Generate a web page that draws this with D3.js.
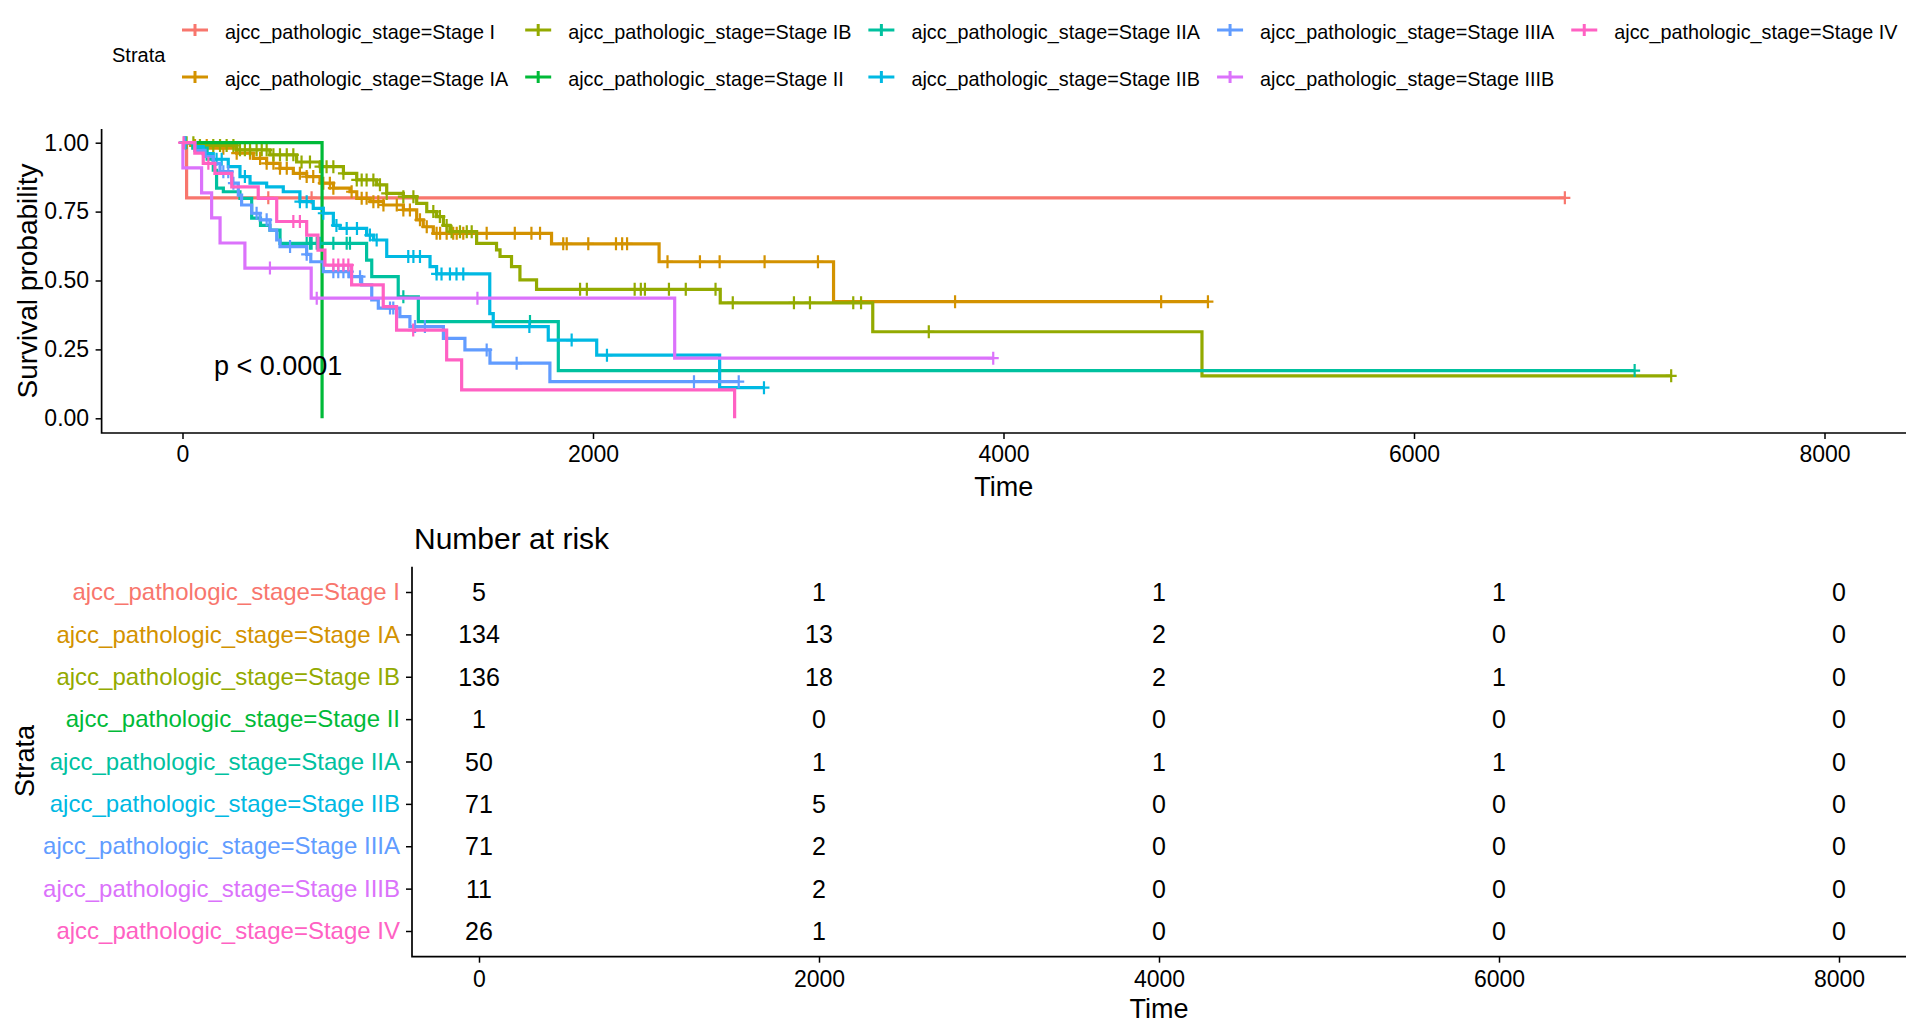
<!DOCTYPE html>
<html>
<head>
<meta charset="utf-8">
<script src="https://cdn.jsdelivr.net/npm/d3@7"></script>
<style>
  body { margin: 0; background: #fff; }
  svg { display: block; font-family: "Liberation Sans", Arial, sans-serif; }
</style>
</head>
<body>
<svg id="chart" width="1920" height="1035"></svg>
<script>
'use strict';

// strata, in legend / table order
var strata = [
  'ajcc_pathologic_stage=Stage I', 'ajcc_pathologic_stage=Stage IA',
  'ajcc_pathologic_stage=Stage IB', 'ajcc_pathologic_stage=Stage II',
  'ajcc_pathologic_stage=Stage IIA', 'ajcc_pathologic_stage=Stage IIB',
  'ajcc_pathologic_stage=Stage IIIA', 'ajcc_pathologic_stage=Stage IIIB',
  'ajcc_pathologic_stage=Stage IV'
];
var colors = ['#F8766D', '#D39200', '#93AA00', '#00BA38', '#00C19F',
              '#00B9E3', '#619CFF', '#DB72FB', '#FF61C3'];

// KM steps: [time, survival]
var stageI = [[0, 1], [20, 0.8]];
var stageIA = [[0, 1], [40, 0.99], [120, 0.98], [264, 0.962], [345, 0.943], [410, 0.925],
  [475, 0.907], [540, 0.889], [605, 0.877], [670, 0.853], [735, 0.835], [816, 0.822],
  [849, 0.798], [914, 0.786], [979, 0.774], [1076, 0.756], [1141, 0.72], [1173, 0.695],
  [1222, 0.671], [1798, 0.633], [2322, 0.568], [3172, 0.423]];
var stageIB = [[0, 1], [60, 0.99], [264, 0.974], [426, 0.956], [556, 0.93], [670, 0.913],
  [784, 0.889], [849, 0.865], [946, 0.847], [995, 0.816], [1076, 0.804], [1141, 0.78],
  [1190, 0.75], [1238, 0.732], [1271, 0.70], [1303, 0.677], [1433, 0.635], [1530, 0.611],
  [1547, 0.587], [1603, 0.55], [1644, 0.502], [1725, 0.468], [2620, 0.419], [3363, 0.314],
  [4967, 0.154]];
var stageII = [[0, 1], [680, 0]];
var stageIIA = [[0, 1], [50, 0.98], [120, 0.94], [150, 0.90], [166, 0.835], [199, 0.822],
  [280, 0.798], [337, 0.726], [380, 0.70], [426, 0.683], [475, 0.635], [897, 0.574],
  [922, 0.514], [1051, 0.441], [1149, 0.351], [1831, 0.173]];
var stageIIB = [[0, 1], [60, 0.986], [101, 0.96], [150, 0.94], [223, 0.913], [280, 0.877],
  [329, 0.853], [410, 0.84], [491, 0.822], [572, 0.786], [637, 0.762], [686, 0.744],
  [735, 0.70], [767, 0.689], [897, 0.665], [930, 0.647], [995, 0.587], [1206, 0.55],
  [1238, 0.524], [1497, 0.38], [1514, 0.333], [1782, 0.284], [2018, 0.229], [2617, 0.111]];
var stageIIIA = [[0, 1], [60, 0.972], [110, 0.95], [150, 0.925], [183, 0.895], [240, 0.853],
  [272, 0.81], [288, 0.774], [337, 0.744], [378, 0.72], [426, 0.683], [459, 0.647],
  [475, 0.623], [605, 0.595], [625, 0.568], [686, 0.532], [816, 0.514], [873, 0.484],
  [922, 0.43], [954, 0.40], [1059, 0.369], [1108, 0.333], [1271, 0.29], [1376, 0.248],
  [1498, 0.2], [1790, 0.133]];
var stageIIIB = [[0, 1], [2, 0.909], [93, 0.818], [142, 0.727], [183, 0.636], [304, 0.545],
  [627, 0.436], [2398, 0.218]];
var stageIV = [[0, 1], [60, 0.962], [101, 0.925], [158, 0.889], [240, 0.84], [369, 0.798],
  [459, 0.714], [605, 0.665], [660, 0.61], [694, 0.556], [824, 0.484], [978, 0.405],
  [1043, 0.32], [1287, 0.212], [1360, 0.103], [2690, 0]];

// censoring times
var censI = [418, 629, 6735];
var censIA = [61, 118, 199, 264, 329, 378, 410, 443, 475, 508, 572, 605, 637, 686, 718, 735,
  824, 873, 897, 930, 954, 979, 1044, 1076, 1108, 1157, 1190, 1238, 1255, 1287, 1319, 1336,
  1368, 1482, 1619, 1700, 1742, 1855, 1872, 1977, 2112, 2142, 2166, 2363, 2521, 2617, 2836,
  3096, 3764, 4768, 4996];
var censIB = [20, 53, 85, 150, 183, 215, 248, 280, 304, 329, 361, 386, 410, 443, 475, 508,
  540, 580, 621, 670, 702, 735, 784, 849, 873, 897, 930, 962, 995, 1076, 1125, 1222, 1254,
  1287, 1311, 1352, 1385, 1409, 1937, 1970, 2203, 2233, 2253, 2370, 2452, 2597, 2681, 2979,
  3057, 3268, 3306, 3636, 7253];
var censII = [];
var censIIA = [10, 605, 621, 629, 654, 670, 735, 800, 816, 1076, 1693, 7075];
var censIIB = [15, 166, 191, 304, 572, 605, 686, 750, 800, 850, 913, 946, 1100, 1125, 1157,
  1238, 1262, 1303, 1335, 1368, 1690, 1896, 2068, 2833];
var censIIIA = [10, 199, 223, 248, 361, 410, 524, 605, 735, 759, 784, 808, 865, 1011, 1027,
  1133, 1181, 1482, 1628, 2492, 2710];
var censIIIB = [426, 654, 1437, 3950];
var censIV = [5, 126, 540, 572, 735, 759, 784, 808, 1124];

// number at risk
var riskTimes = [0, 2000, 4000, 6000, 8000];
var riskI = [5, 1, 1, 1, 0];
var riskIA = [134, 13, 2, 0, 0];
var riskIB = [136, 18, 2, 1, 0];
var riskII = [1, 0, 0, 0, 0];
var riskIIA = [50, 1, 1, 1, 0];
var riskIIB = [71, 5, 0, 0, 0];
var riskIIIA = [71, 2, 0, 0, 0];
var riskIIIB = [11, 2, 0, 0, 0];
var riskIV = [26, 1, 0, 0, 0];

var xTicks = [0, 2000, 4000, 6000, 8000];
var yTicks = [0, 0.25, 0.5, 0.75, 1];

var steps = [stageI, stageIA, stageIB, stageII, stageIIA, stageIIB, stageIIIA, stageIIIB, stageIV];
var cens = [censI, censIA, censIB, censII, censIIA, censIIB, censIIIA, censIIIB, censIV];
var risk = [riskI, riskIA, riskIB, riskII, riskIIA, riskIIB, riskIIIA, riskIIIB, riskIV];

var curves = strata.map(function(name, i) {
  var st = steps[i];
  var last = st[st.length - 1];
  var end = Math.max(last[0], d3.max(cens[i]) || 0);
  var pts = st.slice();
  if (end > last[0]) pts.push([end, last[1]]);
  return { name: name, color: colors[i], pts: pts, steps: st, cens: cens[i], risk: risk[i] };
});

function survAt(st, t) {
  var s = 1;
  st.forEach(function(p) { if (p[0] <= t) s = p[1]; });
  return s;
}

var svg = d3.select('#chart');

// ---------- survival panel ----------
var panel = { left: 101.6, right: 1906, top: 128.9, bottom: 433 };
var x = d3.scaleLinear().domain([0, 8000]).range([182.5, 1824.5]);
var y = d3.scaleLinear().domain([0, 1]).range([418.3, 142.7]);

var line = d3.line()
    .curve(d3.curveStepAfter)
    .x(function(d) { return x(d[0]); })
    .y(function(d) { return y(d[1]); });

var g = svg.append('g');

var curve = g.selectAll('.curve')
  .data(curves)
  .enter().append('g')
    .attr('class', 'curve');

curve.append('path')
    .attr('d', function(d) { return line(d.pts); })
    .attr('fill', 'none')
    .attr('stroke', function(d) { return d.color; })
    .attr('stroke-width', 3.2);

curve.selectAll('.cens')
  .data(function(d) {
    return d.cens.map(function(t) { return { t: t, s: survAt(d.steps, t), color: d.color }; });
  })
  .enter().append('path')
    .attr('class', 'cens')
    .attr('d', function(d) {
      var cx = x(d.t), cy = y(d.s);
      return 'M' + (cx - 5.5) + ',' + cy + 'H' + (cx + 5.5) + 'M' + cx + ',' + (cy - 6.5) + 'V' + (cy + 6.5);
    })
    .attr('stroke', function(d) { return d.color; })
    .attr('stroke-width', 2.2)
    .attr('fill', 'none');

// axes
var xAxis = d3.axisBottom(x).tickValues(xTicks).tickSize(6).tickPadding(6.5).tickFormat(d3.format('d'));
var yAxis = d3.axisLeft(y).tickValues(yTicks).tickSize(6).tickPadding(6.5).tickFormat(d3.format('.2f'));

var gx = svg.append('g').attr('transform', 'translate(0,' + panel.bottom + ')').call(xAxis);
var gy = svg.append('g').attr('transform', 'translate(' + panel.left + ',0)').call(yAxis);
[gx, gy].forEach(function(a) {
  a.select('.domain').remove();
  a.selectAll('line').attr('stroke', '#000').attr('stroke-width', 1.5);
  a.selectAll('text').attr('fill', '#000').style('font-size', '23px').style('font-family', 'inherit');
});

svg.append('path')
    .attr('d', 'M' + panel.left + ',' + panel.top + 'V' + panel.bottom + 'H' + panel.right)
    .attr('fill', 'none').attr('stroke', '#000').attr('stroke-width', 1.7);

svg.append('text')
    .attr('transform', 'translate(37,281) rotate(-90)')
    .attr('text-anchor', 'middle')
    .style('font-size', '28px')
    .text('Survival probability');

svg.append('text')
    .attr('x', (panel.left + panel.right) / 2).attr('y', 496)
    .attr('text-anchor', 'middle')
    .style('font-size', '27px')
    .text('Time');

svg.append('text')
    .attr('x', 214).attr('y', 375)
    .style('font-size', '27px')
    .text('p < 0.0001');

// ---------- legend ----------
var legend = svg.append('g');
legend.append('text')
    .attr('x', 112).attr('y', 62)
    .style('font-size', '20px')
    .text('Strata');

var rowY = [30, 77];
var keyX = 182;
for (var c = 0; c < Math.ceil(curves.length / 2); c++) {
  var maxW = 0;
  for (var r = 0; r < 2; r++) {
    var k = c * 2 + r;
    if (k >= curves.length) break;
    var item = legend.append('g').attr('transform', 'translate(' + keyX + ',' + rowY[r] + ')');
    item.append('path')
        .attr('d', 'M0,0H26M13,-6V6')
        .attr('stroke', curves[k].color)
        .attr('stroke-width', 3)
        .attr('fill', 'none');
    var t = item.append('text')
        .attr('x', 43).attr('y', 8.5)
        .style('font-size', '19.8px')
        .text(curves[k].name);
    maxW = Math.max(maxW, t.node().getComputedTextLength());
  }
  keyX = keyX + 43 + maxW + 17;
}

// ---------- number at risk table ----------
var tpanel = { left: 412, right: 1906, top: 566.7, bottom: 956.7 };
var xr = d3.scaleLinear().domain([0, 8000]).range([479, 1839]);
var yr = d3.scalePoint().domain(strata).range([592, 931]);

svg.append('text')
    .attr('x', 414).attr('y', 549)
    .style('font-size', '30px')
    .text('Number at risk');

var rows = svg.append('g').selectAll('g')
  .data(curves)
  .enter().append('g')
    .attr('transform', function(d) { return 'translate(0,' + yr(d.name) + ')'; });

rows.selectAll('text')
  .data(function(d) { return d.risk.map(function(v, i) { return { t: riskTimes[i], v: v }; }); })
  .enter().append('text')
    .attr('x', function(d) { return xr(d.t); })
    .attr('dy', '0.36em')
    .attr('text-anchor', 'middle')
    .style('font-size', '25px')
    .text(function(d) { return d.v; });

var txAxis = d3.axisBottom(xr).tickValues(xTicks).tickSize(6).tickPadding(8).tickFormat(d3.format('d'));
var tyAxis = d3.axisLeft(yr).tickSize(6).tickPadding(6);

var tgx = svg.append('g').attr('transform', 'translate(0,' + tpanel.bottom + ')').call(txAxis);
var tgy = svg.append('g').attr('transform', 'translate(' + tpanel.left + ',0)').call(tyAxis);
tgx.selectAll('text').style('font-size', '23px');
tgy.selectAll('text')
    .style('font-size', '24px')
    .attr('fill', function(d, i) { return colors[i]; });
[tgx, tgy].forEach(function(a) {
  a.select('.domain').remove();
  a.selectAll('line').attr('stroke', '#000').attr('stroke-width', 1.5);
  a.selectAll('text').style('font-family', 'inherit');
});
tgx.selectAll('text').attr('fill', '#000');

svg.append('path')
    .attr('d', 'M' + tpanel.left + ',' + tpanel.top + 'V' + tpanel.bottom + 'H' + tpanel.right)
    .attr('fill', 'none').attr('stroke', '#000').attr('stroke-width', 1.7);

svg.append('text')
    .attr('transform', 'translate(34,761) rotate(-90)')
    .attr('text-anchor', 'middle')
    .style('font-size', '27px')
    .text('Strata');

svg.append('text')
    .attr('x', (tpanel.left + tpanel.right) / 2).attr('y', 1018)
    .attr('text-anchor', 'middle')
    .style('font-size', '27px')
    .text('Time');
</script>
</body>
</html>
